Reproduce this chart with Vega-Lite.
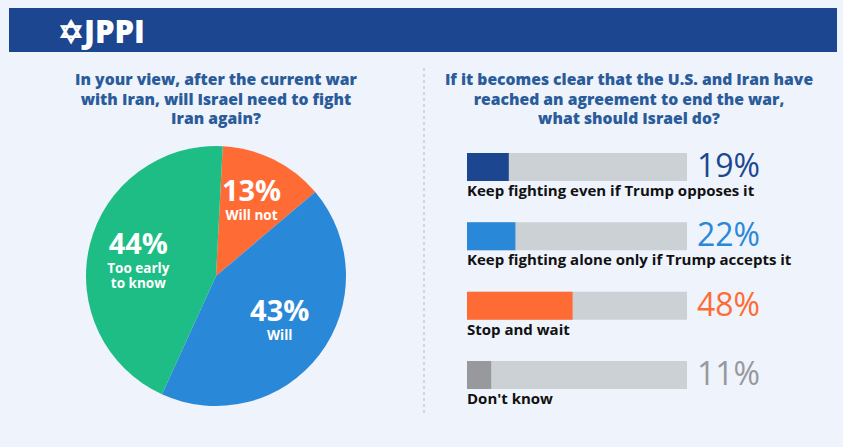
{
  "$schema": "https://vega.github.io/schema/vega-lite/v6.json",
  "background": "#eff3fc",
  "padding": {"left": 9, "top": 8, "right": 6, "bottom": 34},
  "config": {
    "view": {"stroke": null},
    "font": "Open Sans",
    "title": {"font": "Open Sans", "fontSize": 15.7, "fontWeight": 800, "color": "#2b5c9a", "lineHeight": 19.5, "anchor": "middle", "offset": 10}
  },
  "spacing": 15,
  "resolve": {"scale": {"color": "independent"}},
  "vconcat": [
    {
      "width": 828,
      "height": 44,
      "view": {"fill": "#1c4690", "stroke": null},
      "data": {"values": [{"brand": "✡JPPI"}]},
      "mark": {"type": "text", "x": 0, "dx": 49, "y": "height", "dy": -9, "align": "left", "baseline": "alphabetic", "font": "Open Sans", "fontSize": 31, "fontWeight": 800, "color": "#ffffff"},
      "encoding": {"text": {"field": "brand"}}
    },
    {
      "spacing": 19,
      "resolve": {"scale": {"color": "independent"}},
      "hconcat": [
        {
          "spacing": 0,
          "resolve": {"scale": {"color": "independent"}},
          "hconcat": [
            {
              "width": 414,
              "height": 276,
              "title": {"text": ["In your view, after the current war", "with Iran, will Israel need to fight", "Iran again?"]},
              "data": {"values": [
                {"answer": "Will not", "pct": 13, "order": 1, "label": "Will not"},
                {"answer": "Will", "pct": 43, "order": 2, "label": "Will"},
                {"answer": "Too early to know", "pct": 44, "order": 3, "label": "Too early\nto know"}
              ]},
              "transform": [{"calculate": "datum.pct + '%'", "as": "pctLabel"}],
              "encoding": {
                "theta": {"field": "pct", "type": "quantitative", "stack": true, "scale": {"range": [0.052, 6.335]}},
                "order": {"field": "order", "type": "quantitative"},
                "color": {"field": "answer", "type": "nominal", "scale": {"domain": ["Will not", "Will", "Too early to know"], "range": ["#ff6b35", "#2a88d8", "#1dbd85"]}, "legend": null}
              },
              "layer": [
                {"mark": {"type": "arc", "outerRadius": 130}},
                {"mark": {"type": "text", "radius": 80, "font": "Open Sans", "fontSize": 29, "fontWeight": "bold", "baseline": "alphabetic", "dy": -3}, "encoding": {"text": {"field": "pctLabel"}, "color": {"value": "#ffffff"}}},
                {"mark": {"type": "text", "radius": 80, "font": "Open Sans", "fontSize": 13.5, "fontWeight": "bold", "baseline": "top", "dy": 5, "lineBreak": "\n", "lineHeight": 15}, "encoding": {"text": {"field": "label"}, "color": {"value": "#ffffff"}}}
              ]
            },
            {
              "width": 1,
              "height": 276,
              "data": {"values": [{"edge": 0}]},
              "mark": {"type": "rule", "y": -70, "y2": "height", "color": "#b3b9c4", "strokeDash": [3, 3], "strokeWidth": 1},
              "encoding": {"x": {"field": "edge", "type": "quantitative", "scale": {"domain": [0, 1]}, "axis": null}}
            }
          ]
        },
        {
          "width": 220,
          "height": 266,
          "title": {"text": ["If it becomes clear that the U.S. and Iran have", "reached an agreement to end the war,", "what should Israel do?"], "dx": 52},
          "data": {"values": [
            {"option": "Keep fighting even if Trump opposes it", "pct": 19},
            {"option": "Keep fighting alone only if Trump accepts it", "pct": 22},
            {"option": "Stop and wait", "pct": 48},
            {"option": "Don't know", "pct": 11}
          ]},
          "transform": [{"calculate": "datum.pct + '%'", "as": "pctLabel"}],
          "encoding": {
            "y": {"field": "option", "type": "nominal", "sort": null, "axis": null, "scale": {"paddingInner": 0.596, "paddingOuter": 0.216}}
          },
          "layer": [
            {"mark": {"type": "bar", "color": "#cbd1d5"}, "encoding": {"x": {"datum": 0, "type": "quantitative", "scale": {"domain": [0, 100]}, "axis": null}, "x2": {"datum": 100}}},
            {"mark": {"type": "bar"}, "encoding": {
              "x": {"field": "pct", "type": "quantitative", "axis": null, "stack": null},
              "color": {"field": "option", "type": "nominal", "sort": null, "scale": {"domain": ["Keep fighting even if Trump opposes it", "Keep fighting alone only if Trump accepts it", "Stop and wait", "Don't know"], "range": ["#1c4690", "#2a88d8", "#ff6b35", "#97999c"]}, "legend": null}
            }},
            {"mark": {"type": "text", "align": "left", "baseline": "middle", "dx": 10, "font": "Open Sans", "fontSize": 32, "fontWeight": 400}, "encoding": {
              "x": {"datum": 100, "type": "quantitative", "axis": null},
              "text": {"field": "pctLabel"},
              "color": {"field": "option", "type": "nominal", "legend": null}
            }},
            {"mark": {"type": "text", "align": "left", "baseline": "middle", "dy": 24, "font": "Open Sans", "fontSize": 15, "fontWeight": "bold", "color": "#111111"}, "encoding": {
              "x": {"datum": 0, "type": "quantitative", "axis": null},
              "text": {"field": "option"}
            }}
          ]
        }
      ]
    }
  ]
}
